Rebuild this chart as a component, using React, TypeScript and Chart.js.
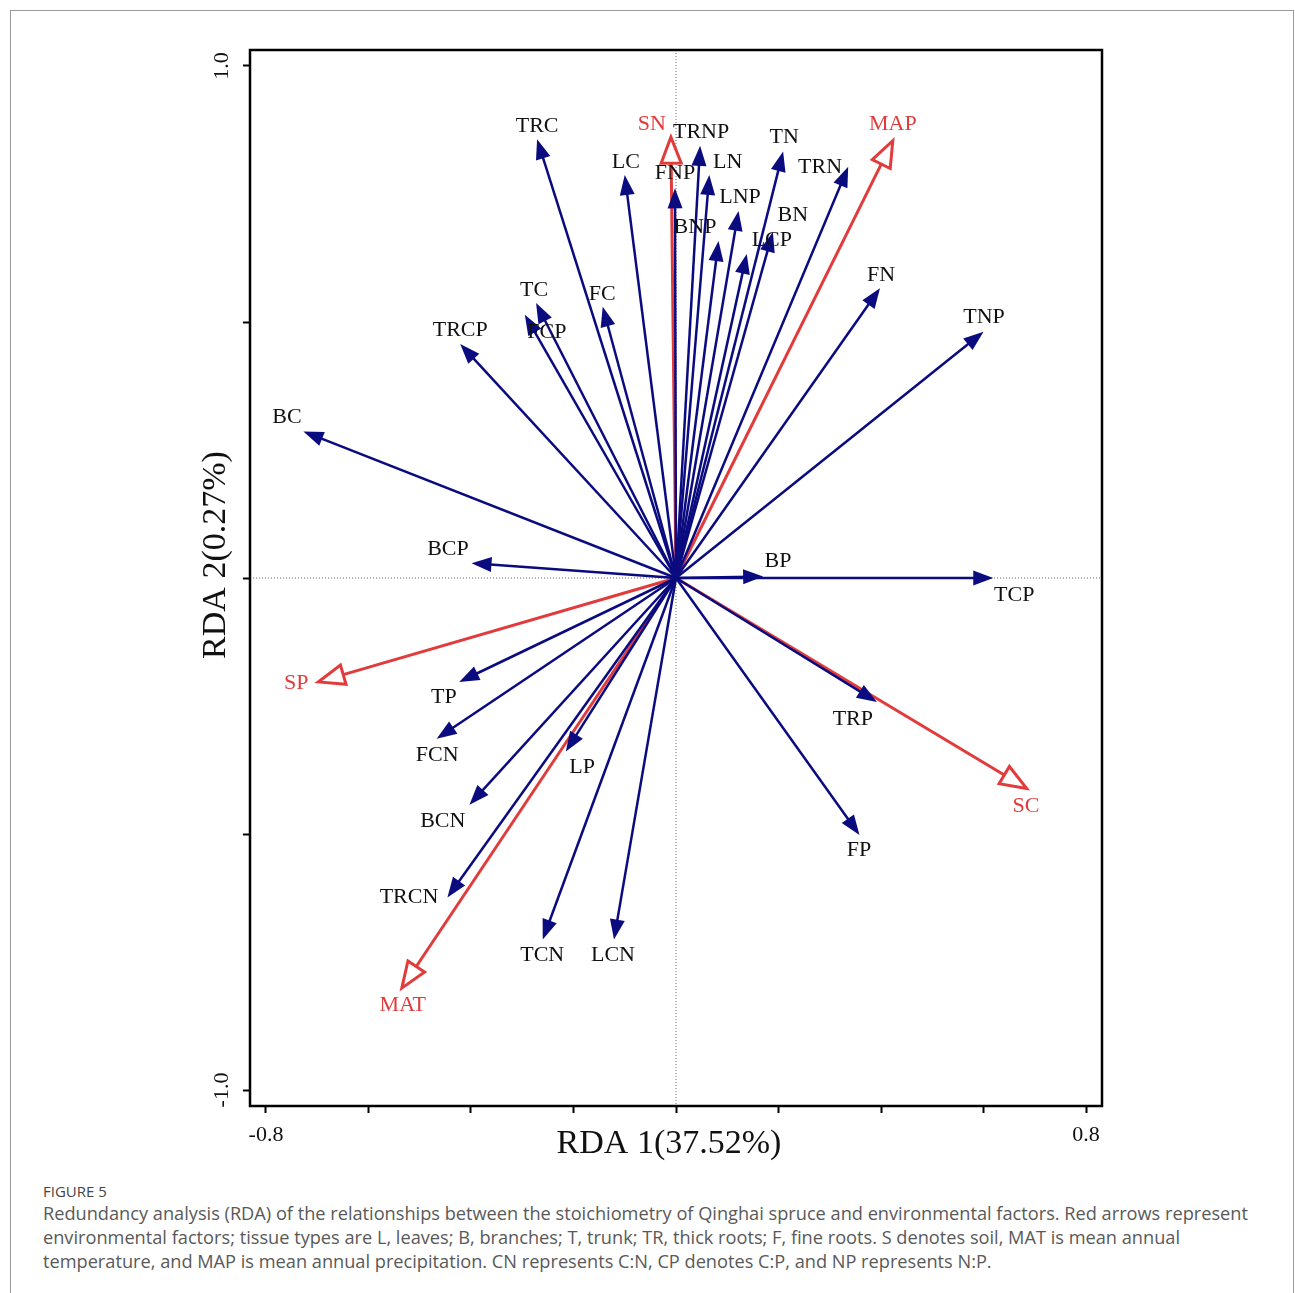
import React, { useEffect, useRef } from 'react';
import { Chart, registerables } from 'chart.js';

Chart.register(...registerables);

// ---- Data ----
const speciesNames = ['TRC', 'LC', 'FNP', 'TRNP', 'LN', 'LNP', 'BNP', 'LCP', 'BN', 'TN', 'TRN', 'FN', 'TNP', 'TC', 'FCP', 'FC', 'TRCP', 'BC', 'BCP', 'BP', 'TCP', 'TRP', 'FP', 'TP', 'FCN', 'BCN', 'LP', 'TRCN', 'TCN', 'LCN'];
const speciesX = [-0.271, -0.100, -0.002, 0.047, 0.065, 0.122, 0.083, 0.138, 0.189, 0.209, 0.336, 0.398, 0.600, -0.273, -0.295, -0.143, -0.421, -0.727, -0.399, 0.170, 0.619, 0.392, 0.358, -0.423, -0.467, -0.403, -0.215, -0.446, -0.260, -0.121];
const speciesY = [0.857, 0.787, 0.761, 0.844, 0.787, 0.717, 0.658, 0.633, 0.676, 0.833, 0.803, 0.566, 0.481, 0.537, 0.514, 0.530, 0.457, 0.286, 0.029, 0.003, 0.000, -0.242, -0.502, -0.203, -0.314, -0.443, -0.339, -0.624, -0.706, -0.706];
const speciesLabelX = [-0.271, -0.098, -0.002, 0.049, 0.101, 0.125, 0.037, 0.187, 0.228, 0.211, 0.281, 0.400, 0.601, -0.277, -0.252, -0.144, -0.421, -0.759, -0.445, 0.199, 0.660, 0.345, 0.357, -0.453, -0.466, -0.455, -0.183, -0.521, -0.261, -0.123];
const speciesLabelY = [0.885, 0.814, 0.793, 0.873, 0.814, 0.746, 0.688, 0.662, 0.711, 0.863, 0.805, 0.594, 0.512, 0.564, 0.482, 0.557, 0.486, 0.316, 0.059, 0.035, -0.031, -0.273, -0.529, -0.230, -0.344, -0.473, -0.367, -0.621, -0.734, -0.734];

const envNames = ['SN', 'MAP', 'SC', 'SP', 'MAT'];
const envX = [-0.010, 0.423, 0.684, -0.698, -0.535];
const envY = [0.861, 0.854, -0.411, -0.203, -0.801];
const envLabelX = [-0.047, 0.423, 0.683, -0.741, -0.533];
const envLabelY = [0.889, 0.889, -0.443, -0.203, -0.832];

const xTickValues = [-0.8, -0.6, -0.4, -0.2, 0, 0.2, 0.4, 0.6, 0.8];
const xTickLabels = ['-0.8', '', '', '', '', '', '', '', '0.8'];
const yTickValues = [-1.0, -0.5, 0, 0.5, 1.0];
const yTickLabels = ['-1.0', '', '', '', '1.0'];

const xTitle = 'RDA 1(37.52%)';
const yTitle = 'RDA 2(0.27%)';
const figureLabel = 'FIGURE 5';
const captionText = 'Redundancy analysis (RDA) of the relationships between the stoichiometry of Qinghai spruce and environmental factors. Red arrows represent environmental factors; tissue types are L, leaves; B, branches; T, trunk; TR, thick roots; F, fine roots. S denotes soil, MAT is mean annual temperature, and MAP is mean annual precipitation. CN represents C:N, CP denotes C:P, and NP represents N:P.';

// ---- Style ----
const BLUE = '#0b0b80';
const RED = '#e23b3b';
const SERIF = '"Liberation Serif", "Times New Roman", serif';
const CANVAS_W = 1282;
const CANVAS_H = 1160;

function arrowPlugin() {
  return {
    id: 'rdaArrows',
    beforeDatasetsDraw(chart: any) {
      const { ctx, chartArea: ca, scales } = chart;
      const x0 = scales.x.getPixelForValue(0);
      const y0 = scales.y.getPixelForValue(0);
      ctx.save();
      ctx.strokeStyle = '#666';
      ctx.lineWidth = 1;
      ctx.setLineDash([1, 2]);
      ctx.beginPath();
      ctx.moveTo(x0, ca.top);
      ctx.lineTo(x0, ca.bottom);
      ctx.moveTo(ca.left, y0);
      ctx.lineTo(ca.right, y0);
      ctx.stroke();
      ctx.restore();
    },
    afterDatasetsDraw(chart: any) {
      const { ctx, chartArea: ca, scales } = chart;
      const ox = scales.x.getPixelForValue(0);
      const oy = scales.y.getPixelForValue(0);

      const drawArrow = (tx: number, ty: number, color: string, open: boolean) => {
        const dx = tx - ox;
        const dy = ty - oy;
        const len = Math.hypot(dx, dy);
        const ux = dx / len;
        const uy = dy / len;
        const headLen = open ? 26 : 20;
        const halfW = open ? 10 : 7.5;
        const bx = tx - ux * headLen;
        const by = ty - uy * headLen;
        const px = -uy;
        const py = ux;
        ctx.save();
        ctx.strokeStyle = color;
        ctx.fillStyle = color;
        ctx.lineWidth = open ? 3 : 2.5;
        ctx.beginPath();
        ctx.moveTo(ox, oy);
        ctx.lineTo(open ? bx : tx - ux * headLen * 0.6, open ? by : ty - uy * headLen * 0.6);
        ctx.stroke();
        ctx.beginPath();
        ctx.moveTo(tx, ty);
        ctx.lineTo(bx + px * halfW, by + py * halfW);
        ctx.lineTo(bx - px * halfW, by - py * halfW);
        ctx.closePath();
        if (open) {
          ctx.fillStyle = '#fff';
          ctx.fill();
          ctx.lineJoin = 'miter';
          ctx.stroke();
        } else {
          ctx.fill();
        }
        ctx.restore();
      };

      // red (environment) arrows first, blue on top
      const envMeta = chart.getDatasetMeta(1);
      envMeta.data.forEach((pt: any) => drawArrow(pt.x, pt.y, RED, true));
      const spMeta = chart.getDatasetMeta(0);
      spMeta.data.forEach((pt: any) => drawArrow(pt.x, pt.y, BLUE, false));

      // labels
      ctx.save();
      ctx.font = `22px ${SERIF}`;
      ctx.textAlign = 'center';
      ctx.textBaseline = 'middle';
      ctx.fillStyle = '#111';
      speciesNames.forEach((n, i) => {
        ctx.fillText(n, scales.x.getPixelForValue(speciesLabelX[i]), scales.y.getPixelForValue(speciesLabelY[i]) + 1);
      });
      ctx.fillStyle = RED;
      envNames.forEach((n, i) => {
        ctx.fillText(n, scales.x.getPixelForValue(envLabelX[i]), scales.y.getPixelForValue(envLabelY[i]) + 1);
      });
      ctx.restore();

      // frame
      ctx.save();
      ctx.strokeStyle = '#000';
      ctx.lineWidth = 2.5;
      ctx.strokeRect(ca.left, ca.top, ca.right - ca.left, ca.bottom - ca.top);
      ctx.restore();

      // axis titles
      ctx.save();
      ctx.fillStyle = '#111';
      ctx.font = `34px ${SERIF}`;
      ctx.textAlign = 'center';
      ctx.textBaseline = 'middle';
      ctx.fillText(xTitle, (ca.left + ca.right) / 2 - 7, ca.bottom + 38);
      ctx.translate(ca.left - 34, (ca.top + ca.bottom) / 2 - 23);
      ctx.rotate(-Math.PI / 2);
      ctx.fillText(yTitle, 0, 0);
      ctx.restore();

      // y tick labels (rotated)
      ctx.save();
      ctx.fillStyle = '#111';
      ctx.font = `22px ${SERIF}`;
      ctx.textAlign = 'center';
      ctx.textBaseline = 'middle';
      yTickValues.forEach((v, i) => {
        const lbl = yTickLabels[i];
        if (!lbl) return;
        ctx.save();
        ctx.translate(ca.left - 28, scales.y.getPixelForValue(v));
        ctx.rotate(-Math.PI / 2);
        ctx.fillText(lbl, 0, 0);
        ctx.restore();
      });
      ctx.restore();
    },
  };
}

function RdaChart() {
  const ref = useRef<HTMLCanvasElement | null>(null);
  useEffect(() => {
    if (!ref.current) return;
    const chart = new Chart(ref.current, {
      type: 'scatter',
      data: {
        datasets: [
          {
            label: 'Stoichiometry',
            data: speciesX.map((x, i) => ({ x, y: speciesY[i] })),
            pointRadius: 0,
            pointHoverRadius: 0,
            borderColor: BLUE,
            backgroundColor: BLUE,
          },
          {
            label: 'Environment',
            data: envX.map((x, i) => ({ x, y: envY[i] })),
            pointRadius: 0,
            pointHoverRadius: 0,
            borderColor: RED,
            backgroundColor: RED,
          },
        ],
      },
      options: {
        animation: false,
        responsive: false,
        devicePixelRatio: 1,
        events: [],
        layout: { padding: { top: 39, left: 0, right: 191, bottom: 0 } },
        plugins: {
          legend: { display: false },
          tooltip: { enabled: false },
          title: { display: false },
        },
        scales: {
          x: {
            type: 'linear',
            min: -0.8312,
            max: 0.8312,
            afterBuildTicks: (s: any) => {
              s.ticks = xTickValues.map((v) => ({ value: v }));
            },
            afterFit: (s: any) => {
              s.height = CANVAS_H - 1095;
            },
            border: { display: false },
            grid: {
              display: true,
              drawOnChartArea: false,
              drawTicks: true,
              tickLength: 7,
              tickWidth: 2,
              color: '#000',
            },
            ticks: {
              autoSkip: false,
              maxRotation: 0,
              padding: 9,
              color: '#111',
              font: { family: SERIF, size: 22 },
              callback: (_v: any, i: number) => xTickLabels[i],
            },
          },
          y: {
            type: 'linear',
            min: -1.03125,
            max: 1.03125,
            afterBuildTicks: (s: any) => {
              s.ticks = yTickValues.map((v) => ({ value: v }));
            },
            afterFit: (s: any) => {
              s.width = 239;
            },
            border: { display: false },
            grid: {
              display: true,
              drawOnChartArea: false,
              drawTicks: true,
              tickLength: 7,
              tickWidth: 2,
              color: '#000',
            },
            ticks: {
              display: false,
            },
          },
        },
      },
      plugins: [arrowPlugin()],
    } as any);
    return () => chart.destroy();
  }, []);
  return <canvas ref={ref} width={CANVAS_W} height={CANVAS_H} style={{ display: 'block', width: CANVAS_W, height: CANVAS_H }} />;
}

export default function App() {
  return (
    <div
      style={{
        position: 'fixed',
        left: 10,
        top: 10,
        border: '1px solid #9a9a9a',
        width: CANVAS_W,
        height: 1320,
        boxSizing: 'content-box',
        background: '#fff',
      }}
    >
      <RdaChart />
      <div style={{ paddingLeft: 32, paddingRight: 30, marginTop: 10, fontFamily: '"Open Sans", sans-serif', color: '#595959' }}>
        <div style={{ fontSize: 15, lineHeight: '20px', color: '#444' }}>{figureLabel}</div>
        <div style={{ fontSize: 18.2, lineHeight: '24px' }}>{captionText}</div>
      </div>
    </div>
  );
}
